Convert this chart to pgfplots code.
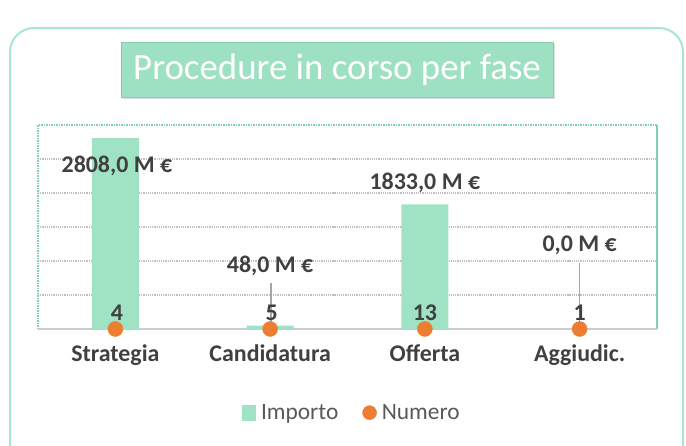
\documentclass[border=0pt]{standalone}
\usepackage{pgfplots}
\pgfplotsset{compat=1.18}
\usepackage{fontspec}
\setmainfont{Carlito}
\definecolor{barc}{HTML}{9FE2C4}
\definecolor{titlec}{HTML}{9DE0C2}
\definecolor{titleb}{HTML}{86CBAE}
\definecolor{framec}{HTML}{A8E6CF}
\definecolor{axgreen}{HTML}{7FCFB0}
\definecolor{dotc}{HTML}{ED7D31}
\definecolor{txt}{HTML}{404040}
\definecolor{legtxt}{HTML}{595959}
\definecolor{gridc}{HTML}{BFBFBF}
\definecolor{leader}{HTML}{A6A6A6}
\begin{document}
\begin{tikzpicture}
\path[use as bounding box] (0,0) rectangle (686bp,-446bp);
\draw[framec, line width=2bp, rounded corners=24bp] (10bp,-28bp) rectangle (683bp,-480bp);
\fill[gray!25] (123bp,-44bp) rectangle (555bp,-99bp);
\node[fill=titlec, draw=titleb, line width=0.8bp, minimum width=432bp, minimum height=55bp, inner sep=0pt, text=white, font=\fontsize{37}{40}\selectfont] at (337bp,-69.5bp) {Procedure in corso per fase};
\begin{axis}[
  at={(38bp,-329bp)}, anchor=south west,
  scale only axis, width=619bp, height=204bp,
  xmin=-0.5, xmax=3.5, ymin=0, ymax=3000,
  axis line style={draw=none},
  xtick={0,1,2,3},
  xticklabels={Strategia,Candidatura,Offerta,Aggiudic.},
  ytick=\empty,
  major tick length=0pt,
  xticklabel style={font=\fontsize{24}{26}\selectfont\bfseries, text=txt, yshift=-12bp},
  clip=false,
  legend columns=2,
  legend style={draw=none, fill=none, at={(0.507,-0.41)}, anchor=center,
    font=\fontsize{23.5}{26}\selectfont, text=legtxt, inner sep=0pt,
    /tikz/every odd column/.append style={column sep=3bp},
    /tikz/every even column/.append style={column sep=22bp}},
  legend cell align=left,
]
\foreach \v in {500,1000,1500,2000,2500}{
  \edef\tmp{\noexpand\draw[gridc, densely dotted, line width=1.2bp] (axis cs:-0.5,\v) -- (axis cs:3.5,\v);}\tmp
}
\draw[axgreen, densely dotted, line width=1.5bp] (axis cs:-0.5,0) -- (axis cs:-0.5,3000) -- (axis cs:3.5,3000);
\draw[axgreen, line width=1.5bp] (axis cs:3.5,3000) -- (axis cs:3.5,0);
\draw[gridc!80, line width=1.5bp] (axis cs:-0.5,0) -- (axis cs:3.5,0);

\addplot[ybar, bar width=47bp, fill=barc, draw=none, bar shift=0pt,
  legend image code/.code={\fill[barc] (0bp,-8bp) rectangle (14bp,8bp);}]
  coordinates {(0,2808) (1,48) (2,1833) (3,0)};
\addlegendentry{Importo}
\addplot[only marks, mark=*, mark size=7.5bp, mark options={fill=dotc, draw=dotc},
  legend image code/.code={\fill[dotc] (7bp,0) circle (7bp);}]
  coordinates {(0,0) (1,0) (2,0) (3,0)};
\addlegendentry{Numero}

\draw[leader, line width=1.5bp] (axis cs:1.005,676) -- (axis cs:1.005,0);
\draw[leader, line width=1.5bp] (axis cs:3.0,971) -- (axis cs:3.0,0);

\begin{scope}[every node/.style={font=\fontsize{24}{26}\selectfont\bfseries, text=txt}]
\node at (axis cs:0.01,2397) {2808,0 M €};
\node at (axis cs:1.0,926) {48,0 M €};
\node at (axis cs:2.0,2147) {1833,0 M €};
\node at (axis cs:3.0,1235) {0,0 M €};
\node at (axis cs:0.01,235) {4};
\node at (axis cs:1.01,235) {5};
\node at (axis cs:2.0,235) {13};
\node at (axis cs:3.0,235) {1};
\end{scope}
\end{axis}
\end{tikzpicture}
\end{document}
